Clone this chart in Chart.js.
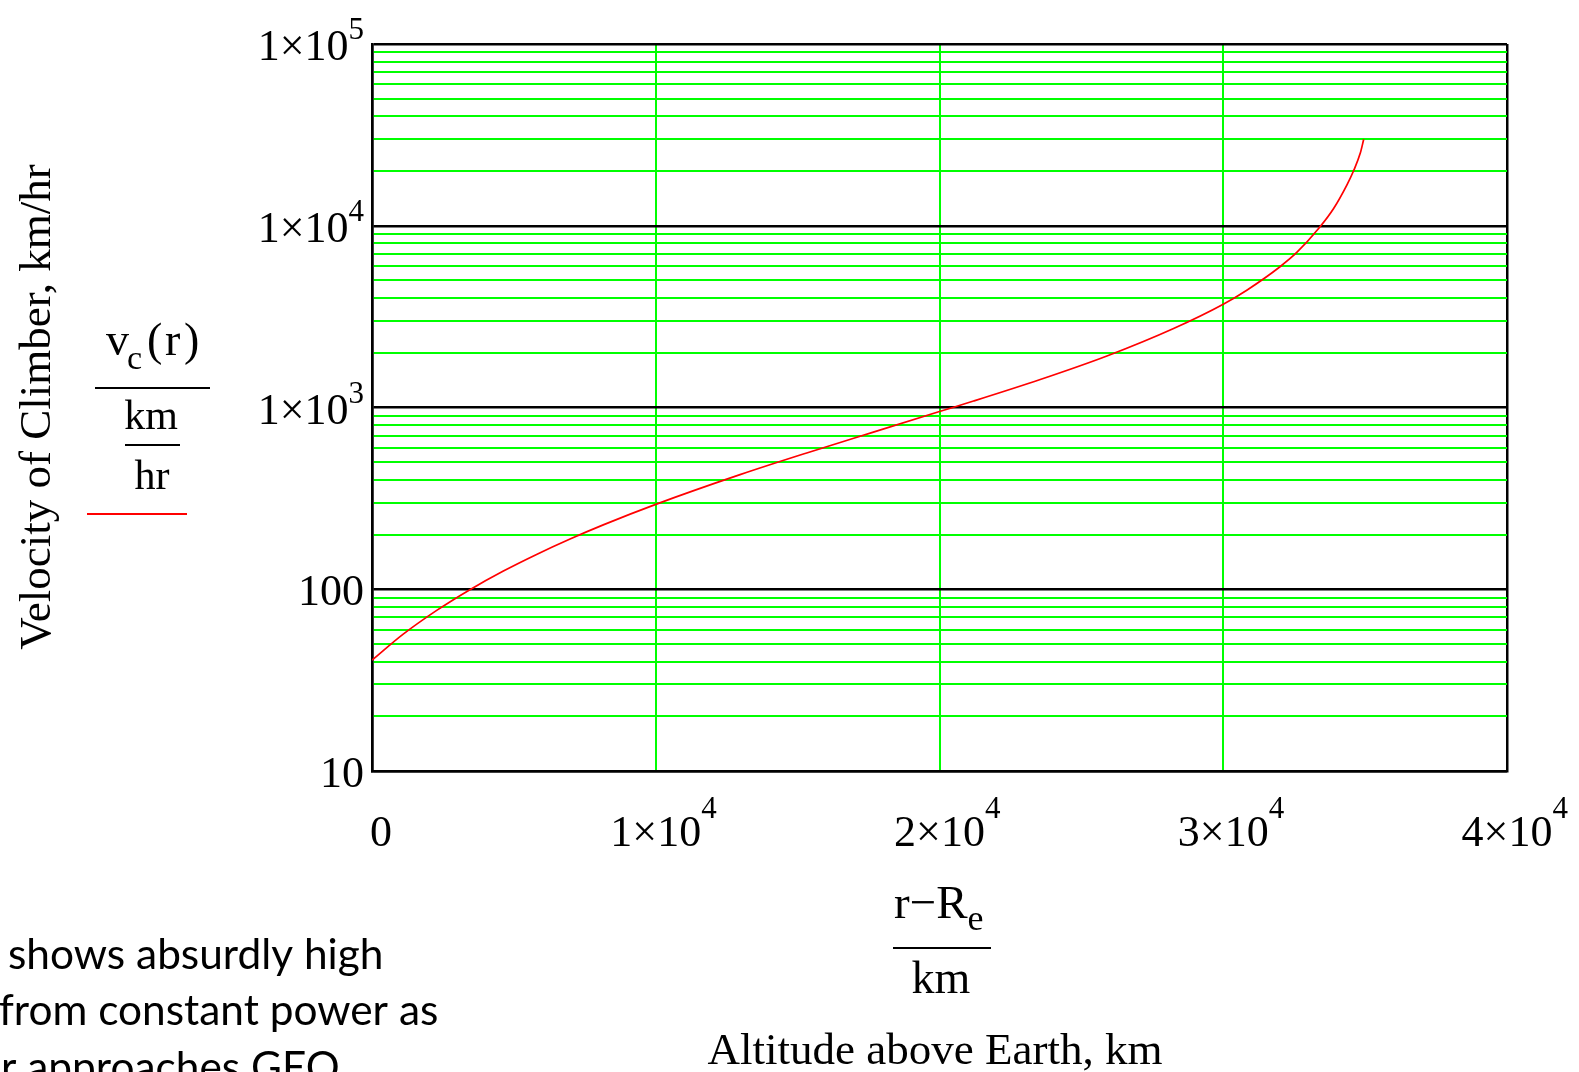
<!DOCTYPE html>
<html><head><meta charset="utf-8">
<script src="https://cdn.jsdelivr.net/npm/chart.js@4/dist/chart.umd.min.js"></script>
<style>html,body{margin:0;padding:0;background:#fff;overflow:hidden}canvas{display:block}</style>
</head><body>
<canvas id="c" width="1579" height="1072"></canvas>
<script>
// ---- data ----
const altitudeKm  = [0, 1100, 2280, 3450, 4630, 5800, 6980, 8150, 10000, 12970, 15320, 17670, 20000, 21200, 23550, 25900, 28250, 30000, 30830, 32000, 32600, 33360, 33890, 34360, 34590, 34830, 34950];
const velocityKmh = [40.7, 56.6, 76.5, 99.5, 126, 155.5, 189, 226, 293, 427, 562, 732, 950, 1085, 1425, 1920, 2720, 3700, 4420, 5950, 7150, 9650, 12450, 16800, 20000, 25100, 29900];

const xTickValues = [0, 10000, 20000, 30000, 40000];
const xTickBase   = ['0', '1×10', '2×10', '3×10', '4×10'];
const xTickSup    = ['', '4', '4', '4', '4'];

const yTickValues = [10, 100, 1000, 10000, 100000];
const yTickBase   = ['10', '100', '1×10', '1×10', '1×10'];
const yTickSup    = ['', '', '3', '4', '5'];
const yMinorMultipliers = [2, 3, 4, 5, 6, 7, 8, 9];

const paragraphLines = ['shows absurdly high', 'from constant power as', 'r approaches GEO'];

// grid values for log axis: decades plus 2..9 multiples
const yGridValues = [];
yTickValues.forEach((d, i) => {
  yGridValues.push(d);
  if (i < yTickValues.length - 1) yMinorMultipliers.forEach(m => yGridValues.push(m * d));
});

const SERIF = '"Liberation Serif", "Times New Roman", serif';
const isDecade = v => Math.abs(Math.log10(v) - Math.round(Math.log10(v))) < 1e-9;

const textPlugin = {
  id: 'mathcadText',
  afterDraw(chart) {
    const ctx = chart.ctx;
    const xs = chart.scales.x, ys = chart.scales.y;
    const area = chart.chartArea;
    ctx.save();
    ctx.fillStyle = '#000';
    ctx.strokeStyle = '#000';

    // y tick labels
    const yRight = area.left - 8;
    yTickValues.forEach((v, i) => {
      const py = ys.getPixelForValue(v);
      let sw = 0;
      if (yTickSup[i]) {
        ctx.font = '31px ' + SERIF;
        sw = ctx.measureText(yTickSup[i]).width;
        ctx.textAlign = 'right'; ctx.textBaseline = 'alphabetic';
        ctx.fillText(yTickSup[i], yRight, py - 5);
      }
      ctx.font = '44px ' + SERIF;
      ctx.textAlign = 'right'; ctx.textBaseline = 'alphabetic';
      ctx.fillText(yTickBase[i], yRight - sw, py + 16);
    });

    // x tick labels
    xTickValues.forEach((v, i) => {
      const px = xs.getPixelForValue(v);
      ctx.font = '44px ' + SERIF;
      const bw = ctx.measureText(xTickBase[i]).width;
      ctx.textAlign = 'left'; ctx.textBaseline = 'alphabetic';
      const bx = Math.max(px - bw / 2, area.left - 2);
      ctx.fillText(xTickBase[i], bx, area.bottom + 75);
      if (xTickSup[i]) {
        ctx.font = '31px ' + SERIF;
        ctx.fillText(xTickSup[i], bx + bw, area.bottom + 47);
      }
    });

    // y axis title (rotated)
    ctx.save();
    ctx.translate(50, 407);
    ctx.rotate(-Math.PI / 2);
    ctx.font = '45px ' + SERIF;
    ctx.textAlign = 'center'; ctx.textBaseline = 'alphabetic';
    ctx.fillText('Velocity of Climber, km/hr', 0, 0);
    ctx.restore();

    // y expression  v_c(r) / (km/hr)
    ctx.textAlign = 'left'; ctx.textBaseline = 'alphabetic';
    ctx.font = '46px ' + SERIF;
    ctx.fillText('v', 106, 355);
    ctx.font = '34px ' + SERIF;
    ctx.fillText('c', 127, 369);
    ctx.font = '46px ' + SERIF;
    ctx.fillText('(', 147, 355);
    ctx.fillText('r', 165, 355);
    ctx.fillText(')', 184, 355);
    ctx.lineWidth = 2;
    ctx.beginPath(); ctx.moveTo(95, 388); ctx.lineTo(210, 388); ctx.stroke();
    ctx.font = '42px ' + SERIF;
    ctx.textAlign = 'center';
    ctx.fillText('km', 151, 429);
    ctx.beginPath(); ctx.moveTo(125, 445); ctx.lineTo(180, 445); ctx.stroke();
    ctx.fillText('hr', 152, 489);
    ctx.strokeStyle = '#ff0000';
    ctx.beginPath(); ctx.moveTo(87, 514); ctx.lineTo(187, 514); ctx.stroke();
    ctx.strokeStyle = '#000';

    // x expression (r-Re)/km
    ctx.textAlign = 'left';
    ctx.font = '47px ' + SERIF;
    const t1 = 'r\u2212R';
    ctx.fillText(t1, 894, 918);
    const w1 = ctx.measureText(t1).width;
    ctx.font = '36px ' + SERIF;
    ctx.fillText('e', 894 + w1, 930);
    ctx.beginPath(); ctx.moveTo(893, 948); ctx.lineTo(991, 948); ctx.stroke();
    ctx.font = '46px ' + SERIF;
    ctx.textAlign = 'center';
    ctx.fillText('km', 941, 993);
    ctx.font = '45px ' + SERIF;
    ctx.fillText('Altitude above Earth, km', 935, 1064);

    // cropped paragraph bottom-left
    ctx.textAlign = 'left';
    const fam = 'Lato, "Open Sans", sans-serif';
    ctx.font = '46px ' + fam;
    const mw = ctx.measureText(paragraphLines[1]).width;
    const fs = 46 * 439 / mw;
    ctx.font = fs.toFixed(1) + 'px ' + fam;
    ctx.fillText(paragraphLines[0], 8, 969);
    ctx.fillText(paragraphLines[1], -1, 1025);
    ctx.fillText(paragraphLines[2], 1, 1082);
    ctx.restore();
  }
};

new Chart(document.getElementById('c'), {
  type: 'line',
  data: {
    datasets: [{
      data: altitudeKm.map((x, i) => ({ x: x, y: velocityKmh[i] })),
      borderColor: '#ff0000',
      borderWidth: 1.7,
      pointRadius: 0,
      fill: false,
      cubicInterpolationMode: 'monotone'
    }]
  },
  options: {
    responsive: false,
    devicePixelRatio: 1,
    animation: false,
    layout: { padding: { left: 372, top: 44, right: 72, bottom: 301 } },
    plugins: { legend: { display: false }, tooltip: { enabled: false } },
    scales: {
      x: {
        type: 'linear', min: 0, max: 40000,
        afterBuildTicks: s => { s.ticks = xTickValues.map(v => ({ value: v })); },
        ticks: { display: false },
        grid: {
          drawTicks: false,
          color: c => (c.tick && (c.tick.value === 0 || c.tick.value === 40000)) ? '#000000' : '#00ff00',
          lineWidth: c => (c.tick && (c.tick.value === 0 || c.tick.value === 40000)) ? 2.5 : 2
        },
        border: { color: '#000000', width: 2.5 }
      },
      y: {
        type: 'logarithmic', min: 10, max: 100000,
        afterBuildTicks: s => { s.ticks = yGridValues.map(v => ({ value: v })); },
        ticks: { display: false },
        grid: {
          drawTicks: false,
          color: c => (c.tick && isDecade(c.tick.value)) ? '#000000' : '#00ff00',
          lineWidth: c => (c.tick && isDecade(c.tick.value)) ? 2.5 : 2
        },
        border: { color: '#000000', width: 2.5 }
      }
    }
  },
  plugins: [textPlugin]
});
</script>
</body></html>
